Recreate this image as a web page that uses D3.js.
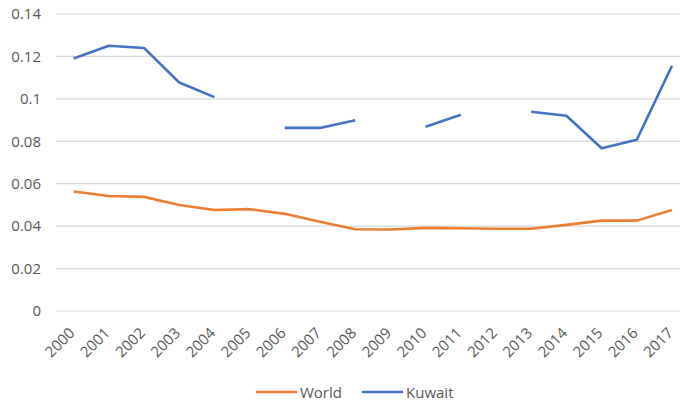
<!DOCTYPE html>
<html>
<head>
<meta charset="utf-8">
<script src="https://cdn.jsdelivr.net/npm/d3@7"></script>
<style>
  html, body { margin: 0; padding: 0; background: #fff; }
  svg { display: block; }
  text { font-family: "Open Sans", "Liberation Sans", sans-serif; fill: #595959; }
</style>
</head>
<body>
<svg id="chart" width="680" height="405"></svg>
<script>
// Years on the category axis
const years = ["2000","2001","2002","2003","2004","2005","2006","2007","2008",
               "2009","2010","2011","2012","2013","2014","2015","2016","2017"];

// World series
const world = [0.0563, 0.0542, 0.0538, 0.0500, 0.0476, 0.0480, 0.0458, 0.0421, 0.0385,
               0.0384, 0.0392, 0.0390, 0.0388, 0.0388, 0.0406, 0.0426, 0.0426, 0.0476];

// Kuwait series (null = no data, leaves a gap)
const kuwait = [0.119, 0.125, 0.124, 0.1077, 0.1008, null, 0.0863, 0.0863, 0.0899,
                null, 0.0869, 0.0925, null, 0.0939, 0.092, 0.0767, 0.0807, 0.1156];

// Y-axis ticks
const yTicks = [0, 0.02, 0.04, 0.06, 0.08, 0.1, 0.12, 0.14];

const series = [
  { name: "World", values: world, color: "#ED7D31" },
  { name: "Kuwait", values: kuwait, color: "#4472C4" }
];

const FONT = "'Open Sans', 'Liberation Sans', sans-serif";
const svg = d3.select("#chart");
const plotLeft = 56, plotRight = 689.6, plotTop = 14, plotBottom = 311;

const x = d3.scaleBand().domain(years).range([plotLeft, plotRight]).paddingInner(0).paddingOuter(0);
const y = d3.scaleLinear().domain([0, 0.14]).range([plotBottom, plotTop]);
const cx = d => x(d) + x.bandwidth() / 2;

// Horizontal gridlines
svg.append("g")
  .selectAll("line")
  .data(yTicks)
  .join("line")
  .attr("x1", plotLeft).attr("x2", 680)
  .attr("y1", d => y(d)).attr("y2", d => y(d))
  .attr("stroke", "#d9d9d9").attr("stroke-width", 1.2);

// Y-axis labels
const yAxis = d3.axisLeft(y).tickValues(yTicks).tickFormat(d => d3.format("~g")(d)).tickSize(0).tickPadding(15);
svg.append("g")
  .attr("transform", `translate(${plotLeft},0)`)
  .call(yAxis)
  .call(g => g.select(".domain").remove())
  .call(g => g.selectAll("text").attr("font-size", 15).attr("fill", "#595959")
    .attr("font-family", FONT));

// X-axis labels, rotated
const xAxis = d3.axisBottom(x).tickSize(0).tickPadding(0);
svg.append("g")
  .attr("transform", `translate(0,${plotBottom})`)
  .call(xAxis)
  .call(g => g.select(".domain").remove())
  .call(g => g.selectAll("text")
    .attr("font-size", 15).attr("fill", "#595959")
    .attr("font-family", FONT)
    .attr("text-anchor", "end")
    .attr("dy", 0).attr("y", 0)
    .attr("transform", "translate(2,23) rotate(-45)"));

// Lines
const line = d3.line()
  .defined(d => d.v !== null)
  .x(d => cx(d.year))
  .y(d => y(d.v));

svg.append("g")
  .selectAll("path")
  .data(series)
  .join("path")
  .attr("fill", "none")
  .attr("stroke", d => d.color)
  .attr("stroke-width", 2.6)
  .attr("stroke-linejoin", "round")
  .attr("d", d => line(years.map((yr, i) => ({ year: yr, v: d.values[i] }))));

// Legend
const legendItems = [
  { name: "World", color: "#ED7D31", x: 256 },
  { name: "Kuwait", color: "#4472C4", x: 362 }
];
const lg = svg.append("g").selectAll("g").data(legendItems).join("g")
  .attr("transform", d => `translate(${d.x},392)`);
lg.append("line").attr("x1", 0).attr("x2", 41).attr("y1", 0).attr("y2", 0)
  .attr("stroke", d => d.color).attr("stroke-width", 2.6);
lg.append("text").attr("x", 44).attr("y", 5.5).attr("font-size", 15).attr("font-family", FONT).text(d => d.name);
</script>
</body>
</html>
